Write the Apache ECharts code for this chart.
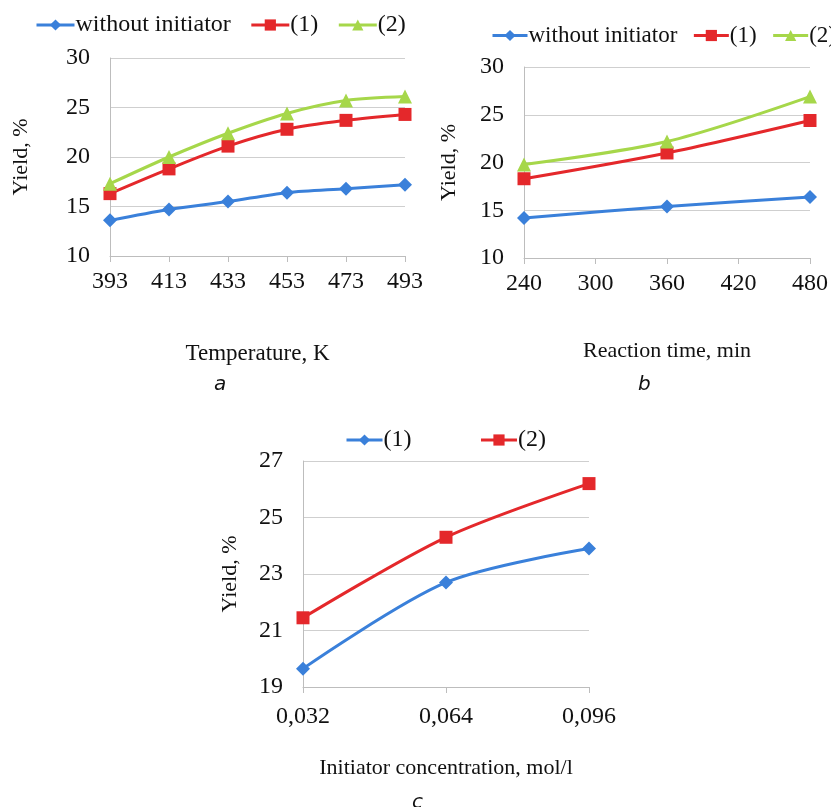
<!DOCTYPE html>
<html>
<head>
<meta charset="utf-8">
<script src="https://cdn.jsdelivr.net/npm/echarts@6/dist/echarts.min.js"></script>
<style>
  html, body { margin: 0; padding: 0; background: #fff; }
  #wrap { position: relative; width: 831px; height: 807px; overflow: hidden; }
  .pane { position: absolute; }
</style>
</head>
<body>
<div id="wrap">
  <div id="chartA" class="pane" style="left:0;top:0;width:430px;height:400px"></div>
  <div id="chartB" class="pane" style="left:430px;top:0;width:401px;height:400px"></div>
  <div id="chartC" class="pane" style="left:0;top:400px;width:831px;height:407px"></div>
</div>
<script>
// a: temperature
const tempCats = ['393', '413', '433', '453', '473', '493']
const tempNone = [13.6, 14.7, 15.5, 16.4, 16.8, 17.2]
const tempInit1 = [16.3, 18.8, 21.1, 22.8, 23.7, 24.3]
const tempInit2 = [17.3, 20.0, 22.4, 24.4, 25.7, 26.1]

// b: reaction time (min)
const timeVals = [240, 360, 480]
const timeNone = [14.2, 15.4, 16.4]
const timeInit1 = [18.3, 21.0, 24.4]
const timeInit2 = [19.8, 22.2, 26.9]

// c: initiator concentration
const concCats = ['0,032', '0,064', '0,096']
const conc1 = [19.65, 22.7, 23.9]
const conc2 = [21.45, 24.3, 26.2]
const concTicks = [19, 21, 23, 25, 27]

const BLUE = '#3a80da'
const RED = '#e4282b'
const GREEN = '#a6d74a'
const GRID = '#cfcfcf'
const AXIS = '#bdbdbd'
const SERIF = '"Liberation Serif", "DejaVu Serif", serif'

const txt = (size) => ({ color: '#111', fontFamily: SERIF, fontSize: size })

function lineSeries(name, data, color, symbol, size) {
  return {
    name: name,
    type: 'line',
    data: data,
    smooth: 0.3,
    symbol: symbol,
    symbolSize: size,
    showAllSymbol: true,
    lineStyle: { color: color, width: 3 },
    itemStyle: { color: color },
    z: 3
  }
}

function legendOpt(left, top, gap, itemW, size) {
  return {
    left: left,
    top: top,
    width: 600,
    itemWidth: itemW,
    itemHeight: 14,
    itemGap: gap,
    lineStyle: { width: 3 },
    textStyle: Object.assign(txt(size), { padding: [0, 0, 0, -4] })
  }
}

function panelLabel(text, x, y) {
  return {
    type: 'text',
    left: x,
    top: y,
    style: { text: text, fill: '#111', font: 'italic 20px "DejaVu Sans", sans-serif' }
  }
}

const baseY = {
  type: 'value',
  axisLine: { show: true, lineStyle: { color: AXIS } },
  axisTick: { show: false },
  splitLine: { show: true, lineStyle: { color: GRID, width: 1 } },
  axisLabel: Object.assign(txt(24), { margin: 20 }),
  name: 'Yield, %',
  nameLocation: 'middle',
  nameRotate: 90,
  nameTextStyle: txt(22)
}

// ---- a ----
const chartA = echarts.init(document.getElementById('chartA'))
chartA.setOption({
  animation: false,
  legend: legendOpt(30, 8, 19, 38, 24),
  grid: { left: 110, top: 58, width: 295, height: 198 },
  xAxis: {
    type: 'category',
    data: tempCats,
    boundaryGap: false,
    axisLine: { lineStyle: { color: AXIS } },
    axisTick: { show: true, length: 6, lineStyle: { color: AXIS } },
    axisLabel: Object.assign(txt(24), { margin: 14 }),
    name: 'Temperature, K',
    nameLocation: 'middle',
    nameGap: 86,
    nameTextStyle: txt(23)
  },
  yAxis: Object.assign({}, baseY, { min: 10, max: 30, interval: 5, nameGap: 78 }),
  graphic: [panelLabel('a', 214, 375)],
  series: [
    lineSeries('without initiator', tempNone, BLUE, 'diamond', 14),
    lineSeries('(1)', tempInit1, RED, 'rect', 13),
    lineSeries('(2)', tempInit2, GREEN, 'triangle', 14)
  ]
})

// ---- b ----
const chartB = echarts.init(document.getElementById('chartB'))
chartB.setOption({
  animation: false,
  legend: legendOpt(56, 19, 15, 35, 23),
  grid: { left: 94, top: 67, width: 290, height: 191 },
  xAxis: {
    type: 'value',
    min: 240,
    max: 480,
    interval: 60,
    axisLine: { show: true, lineStyle: { color: AXIS } },
    axisTick: { show: true, length: 6, lineStyle: { color: AXIS } },
    splitLine: { show: false },
    axisLabel: Object.assign(txt(24), { margin: 14 }),
    name: 'Reaction time, min',
    nameLocation: 'middle',
    nameGap: 82,
    nameTextStyle: txt(22)
  },
  yAxis: Object.assign({}, baseY, { min: 10, max: 30, interval: 5, nameGap: 64 }),
  graphic: [panelLabel('b', 208, 375)],
  series: [
    lineSeries('without initiator', timeVals.map((t, i) => [t, timeNone[i]]), BLUE, 'diamond', 14),
    lineSeries('(1)', timeVals.map((t, i) => [t, timeInit1[i]]), RED, 'rect', 13),
    lineSeries('(2)', timeVals.map((t, i) => [t, timeInit2[i]]), GREEN, 'triangle', 14)
  ]
})

// ---- c ----
const chartC = echarts.init(document.getElementById('chartC'))
chartC.setOption({
  animation: false,
  legend: legendOpt(340, 23, 68, 36, 24),
  grid: { left: 303, top: 61, width: 286, height: 226 },
  xAxis: {
    type: 'category',
    data: concCats,
    boundaryGap: false,
    axisLine: { lineStyle: { color: AXIS } },
    axisTick: { show: true, length: 6, lineStyle: { color: AXIS } },
    axisLabel: Object.assign(txt(24), { margin: 18 }),
    name: 'Initiator concentration, mol/l',
    nameLocation: 'middle',
    nameGap: 70,
    nameTextStyle: txt(22)
  },
  yAxis: Object.assign({}, baseY, {
    min: 19,
    max: 27,
    axisTick: { show: false, customValues: concTicks },
    axisLabel: Object.assign(txt(24), { margin: 20, customValues: concTicks }),
    nameGap: 62
  }),
  graphic: [panelLabel('c', 412, 393)],
  series: [
    lineSeries('(1)', conc1, BLUE, 'diamond', 14),
    lineSeries('(2)', conc2, RED, 'rect', 13)
  ]
})
</script>
</body>
</html>
